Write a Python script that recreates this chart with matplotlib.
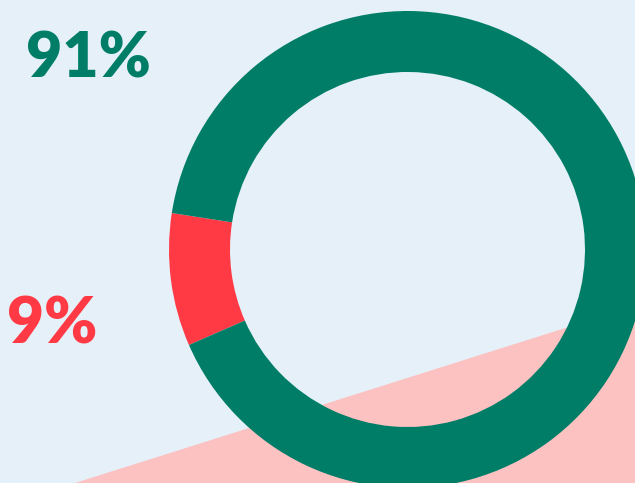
import matplotlib
matplotlib.use("Agg")
import matplotlib.pyplot as plt
from matplotlib.patches import Polygon, Rectangle

# Data
categories = ["Share A", "Share B"]
values = [9, 91]
labels = ["9%", "91%"]

GREEN = "#007D67"
RED = "#FF3A44"
BG = "#E5F0F9"
PINK = "#FCC2C2"

W, H = 635, 483
fig = plt.figure(figsize=(W / 100, H / 100), dpi=100)
ax = fig.add_axes([0, 0, 1, 1])
fig.patch.set_facecolor(BG)

ax.add_patch(Rectangle((0, 0), W, H, facecolor=BG, edgecolor="none", zorder=0))
ax.add_patch(Polygon([(75, 0), (W, 177), (W, 0)], closed=True,
                     facecolor=PINK, edgecolor="none", zorder=1))

wedges, _ = ax.pie(values, colors=[RED, GREEN], startangle=171.2, counterclock=True,
                   radius=238.5, center=(407.5, 233.5), frame=True,
                   wedgeprops=dict(width=61, edgecolor="none"))
for w in wedges:
    w.set_zorder(2)

fam = ["Lato", "DejaVu Sans"]
ax.text(26, 406, labels[1], color=GREEN, fontsize=45, fontweight="heavy",
        family=fam, ha="left", va="baseline", zorder=3)
ax.text(7, 140, labels[0], color=RED, fontsize=46, fontweight="heavy",
        family=fam, ha="left", va="baseline", zorder=3)

ax.set_xlim(0, W)
ax.set_ylim(0, H)
ax.set_aspect("auto")
ax.axis("off")

fig.savefig("out.png", dpi=100, facecolor=BG)
